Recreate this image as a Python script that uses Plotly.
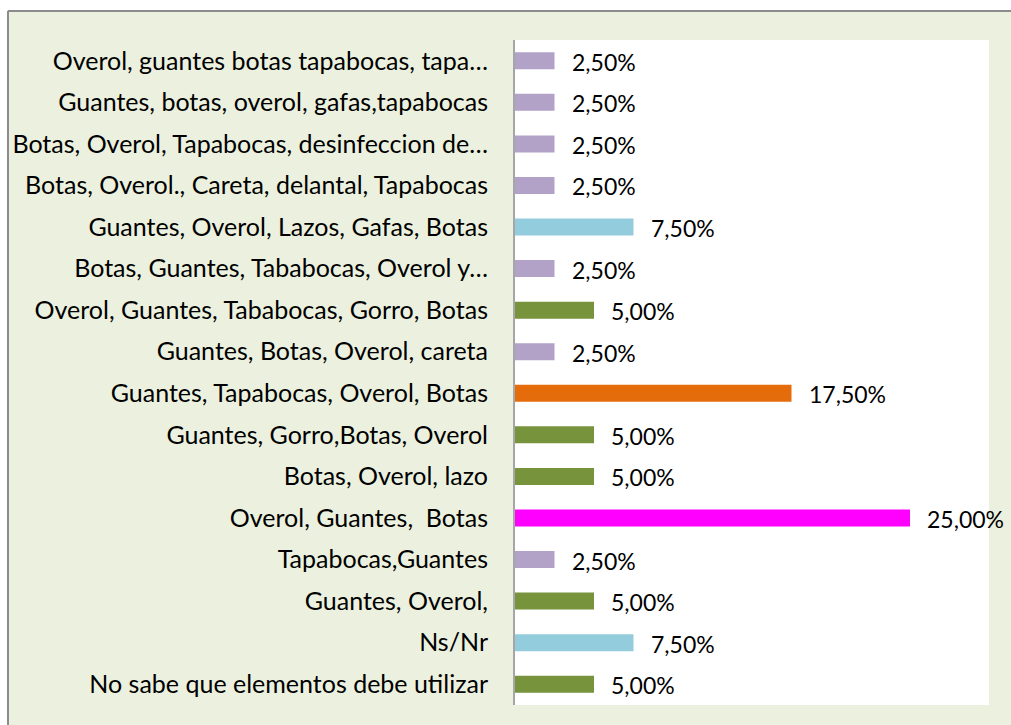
import plotly.graph_objects as go

categories = [
    "Overol, guantes botas tapabocas, tapa…",
    "Guantes, botas, overol, gafas,tapabocas",
    "Botas, Overol, Tapabocas, desinfeccion de…",
    "Botas, Overol., Careta, delantal, Tapabocas",
    "Guantes, Overol, Lazos, Gafas, Botas",
    "Botas, Guantes, Tababocas, Overol y…",
    "Overol, Guantes, Tababocas, Gorro, Botas",
    "Guantes, Botas, Overol, careta",
    "Guantes, Tapabocas, Overol, Botas",
    "Guantes, Gorro,Botas, Overol",
    "Botas, Overol, lazo",
    "Overol, Guantes,  Botas",
    "Tapabocas,Guantes",
    "Guantes, Overol,",
    "Ns/Nr",
    "No sabe que elementos debe utilizar",
]
values = [0.025, 0.025, 0.025, 0.025, 0.075, 0.025, 0.05, 0.025,
          0.175, 0.05, 0.05, 0.25, 0.025, 0.05, 0.075, 0.05]
value_labels = ["2,50%", "2,50%", "2,50%", "2,50%", "7,50%", "2,50%", "5,00%", "2,50%",
                "17,50%", "5,00%", "5,00%", "25,00%", "2,50%", "5,00%", "7,50%", "5,00%"]
bar_colors = ["#B3A2C7", "#B3A2C7", "#B3A2C7", "#B3A2C7", "#93CDDD", "#B3A2C7", "#77933C", "#B3A2C7",
              "#E46C0A", "#77933C", "#77933C", "#FF00FF", "#B3A2C7", "#77933C", "#93CDDD", "#77933C"]

FONT = "Lato"
W, H = 1011, 725
L, R, T, B = 515, 22, 40, 20
PW, PH = W - L - R, H - T - B


def px_x(px):
    return (px - L) / PW


def px_y(py):
    return (H - B - py) / PH


fig = go.Figure()
fig.add_trace(go.Bar(
    x=values, y=categories, orientation="h",
    marker=dict(color=bar_colors, line=dict(width=0)),
    hoverinfo="skip",
))

for c, v, t in zip(categories, values, value_labels):
    fig.add_annotation(x=v, y=c, text=t, showarrow=False, xanchor="left",
                       xshift=15, yshift=-1, font=dict(family=FONT, size=23, color="#000000"))

# white page area outside the beige chart panel
fig.add_shape(type="rect", xref="paper", yref="paper",
              x0=px_x(-5), x1=px_x(W + 5), y0=px_y(10), y1=px_y(-5),
              fillcolor="#FFFFFF", line=dict(width=0), layer="below")
fig.add_shape(type="rect", xref="paper", yref="paper",
              x0=px_x(-5), x1=px_x(7), y0=px_y(H + 5), y1=px_y(-5),
              fillcolor="#FFFFFF", line=dict(width=0), layer="below")
# gray border (top and left) of the chart panel
fig.add_shape(type="line", xref="paper", yref="paper",
              x0=px_x(8), x1=px_x(W + 5), y0=px_y(11), y1=px_y(11),
              line=dict(color="#8C8C8C", width=2))
fig.add_shape(type="line", xref="paper", yref="paper",
              x0=px_x(8), x1=px_x(8), y0=px_y(H + 5), y1=px_y(11),
              line=dict(color="#8C8C8C", width=2))

fig.update_layout(
    width=W, height=H,
    margin=dict(l=L, r=R, t=T, b=B, pad=0),
    paper_bgcolor="#EBF1DE",
    plot_bgcolor="#FFFFFF",
    bargap=0.59,
    showlegend=False,
    xaxis=dict(range=[0, 0.30], showgrid=False, zeroline=False, showticklabels=False,
               showline=False, fixedrange=True),
    yaxis=dict(autorange="reversed", showgrid=False, zeroline=False,
               showline=True, linecolor="#A6A6A6", linewidth=2,
               ticks="", ticklabelstandoff=20,
               tickfont=dict(family=FONT, size=25, color="#000000"), fixedrange=True),
)

fig.write_html("out.html", config={"displayModeBar": False},
               post_script="document.body.style.margin='0';document.body.style.overflow='hidden';")
